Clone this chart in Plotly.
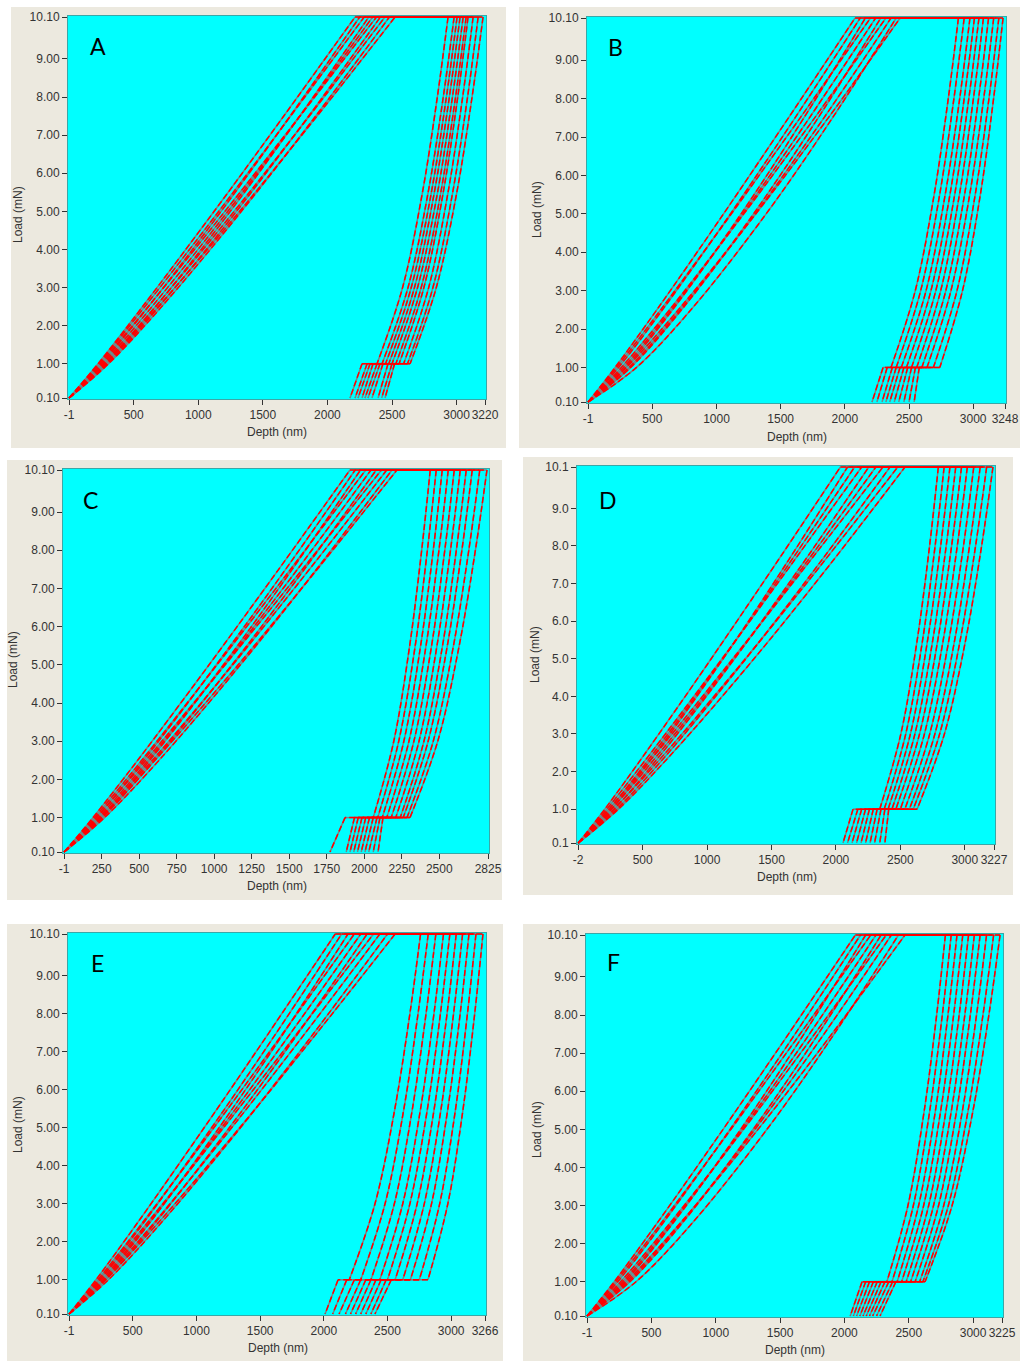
import plotly.graph_objects as go

W, H = 1023, 1361

# Load levels (mN) at which the depth of every curve is sampled
LOAD_P = [0.1, 1.0, 2.5, 5.0, 7.5, 10.1]
UNLOAD_P = [10.1, 8.0, 5.5, 3.0, 1.0]
TOP_P = 10.1
DRIFT_P = 1.0
END_P = 0.1

Y_TICKS = [0.1, 1, 2, 3, 4, 5, 6, 7, 8, 9, 10.1]
Y_TEXT_2DP = ["0.10", "1.00", "2.00", "3.00", "4.00", "5.00", "6.00", "7.00", "8.00", "9.00", "10.10"]
Y_TEXT_1DP = ["0.1", "1.0", "2.0", "3.0", "4.0", "5.0", "6.0", "7.0", "8.0", "9.0", "10.1"]

# ---------------- A ----------------
A_LOAD_H = [
    [0, 224, 569, 1123, 1662, 2214],
    [0, 252, 615, 1177, 1711, 2250],
    [0, 231, 587, 1159, 1715, 2285],
    [0, 286, 671, 1248, 1786, 2320],
    [0, 263, 642, 1229, 1787, 2350],
    [0, 240, 612, 1207, 1787, 2380],
    [0, 297, 697, 1296, 1855, 2410],
    [0, 273, 668, 1278, 1860, 2445],
    [0, 306, 717, 1334, 1909, 2480],
    [0, 282, 690, 1320, 1920, 2524],
]
A_UNLOAD_H = [
    [2934, 2851, 2736, 2582, 2384],
    [2981, 2897, 2780, 2624, 2423],
    [3004, 2921, 2805, 2649, 2450],
    [3027, 2944, 2828, 2674, 2475],
    [3051, 2968, 2853, 2698, 2500],
    [3074, 2992, 2878, 2726, 2530],
    [3089, 3009, 2897, 2747, 2555],
    [3128, 3047, 2934, 2784, 2590],
    [3167, 3085, 2970, 2817, 2620],
    [3205, 3120, 3002, 2843, 2640],
]
A_DRIFT_H = [2268, 2307, 2330, 2353, 2384, 2407, 2430, 2469, 2500, 2520]
A_FINAL_H = [2175, 2214, 2237, 2268, 2291, 2314, 2345, 2392, 2420, 2446]
A_XTICKS = [-1, 500, 1000, 1500, 2000, 2500, 3000, 3220]

# ---------------- B ----------------
B_LOAD_H = [
    [0, 210, 535, 1055, 1561, 2080],
    [0, 237, 579, 1109, 1612, 2120],
    [0, 291, 658, 1192, 1681, 2160],
    [0, 222, 565, 1116, 1652, 2200],
    [0, 276, 648, 1205, 1724, 2240],
    [0, 332, 728, 1289, 1792, 2280],
    [0, 259, 634, 1213, 1765, 2320],
    [0, 318, 719, 1302, 1837, 2360],
    [0, 377, 801, 1387, 1904, 2400],
    [0, 299, 703, 1307, 1871, 2431],
]
B_UNLOAD_H = [
    [2885, 2806, 2696, 2549, 2360],
    [2930, 2850, 2739, 2591, 2400],
    [2975, 2895, 2782, 2633, 2440],
    [3010, 2930, 2819, 2671, 2480],
    [3045, 2966, 2856, 2709, 2520],
    [3080, 3002, 2893, 2747, 2560],
    [3120, 3042, 2933, 2787, 2600],
    [3160, 3082, 2973, 2827, 2640],
    [3200, 3123, 3016, 2874, 2690],
    [3233, 3159, 3056, 2917, 2740],
]
B_DRIFT_H = [2298, 2330, 2370, 2400, 2430, 2460, 2490, 2520, 2550, 2580]
B_FINAL_H = [2212, 2250, 2290, 2320, 2350, 2385, 2420, 2460, 2500, 2540]
B_XTICKS = [-1, 500, 1000, 1500, 2000, 2500, 3000, 3248]

# ---------------- C ----------------
C_LOAD_H = [
    [0, 192, 490, 966, 1430, 1905],
    [0, 217, 530, 1014, 1476, 1940],
    [0, 243, 571, 1062, 1520, 1975],
    [0, 203, 517, 1019, 1509, 2010],
    [0, 229, 559, 1069, 1555, 2045],
    [0, 256, 601, 1119, 1601, 2080],
    [0, 214, 544, 1073, 1588, 2115],
    [0, 240, 588, 1124, 1635, 2150],
    [0, 269, 632, 1175, 1682, 2185],
    [0, 248, 606, 1160, 1687, 2218],
]
C_UNLOAD_H = [
    [2440, 2383, 2303, 2197, 2060],
    [2480, 2421, 2340, 2230, 2090],
    [2520, 2460, 2376, 2264, 2120],
    [2560, 2498, 2412, 2298, 2150],
    [2600, 2537, 2449, 2331, 2180],
    [2640, 2575, 2485, 2365, 2210],
    [2680, 2614, 2522, 2398, 2240],
    [2720, 2651, 2554, 2426, 2260],
    [2770, 2697, 2595, 2460, 2285],
    [2818, 2741, 2633, 2490, 2305],
]
C_DRIFT_H = [1872, 1935, 1960, 1985, 2010, 2035, 2060, 2085, 2105, 2125]
C_FINAL_H = [1772, 1880, 1905, 1930, 1955, 1980, 2005, 2030, 2060, 2092]
C_XTICKS = [-1, 250, 500, 750, 1000, 1250, 1500, 1750, 2000, 2250, 2500, 2825]

# ---------------- D ----------------
D_LOAD_H = [
    [0, 206, 523, 1032, 1528, 2035],
    [0, 257, 604, 1124, 1609, 2090],
    [0, 240, 586, 1122, 1631, 2145],
    [0, 222, 565, 1116, 1652, 2200],
    [0, 278, 652, 1213, 1736, 2255],
    [0, 258, 631, 1208, 1757, 2310],
    [0, 239, 608, 1199, 1775, 2365],
    [0, 298, 700, 1301, 1863, 2420],
    [0, 277, 678, 1297, 1886, 2480],
    [0, 312, 733, 1364, 1952, 2536],
]
D_UNLOAD_H = [
    [2795, 2727, 2631, 2504, 2340],
    [2840, 2770, 2673, 2542, 2375],
    [2885, 2813, 2712, 2578, 2405],
    [2930, 2856, 2752, 2613, 2435],
    [2975, 2898, 2791, 2649, 2465],
    [3020, 2942, 2833, 2687, 2500],
    [3070, 2990, 2877, 2728, 2535],
    [3120, 3037, 2922, 2768, 2570],
    [3170, 3084, 2965, 2805, 2600],
    [3219, 3131, 3007, 2842, 2630],
]
D_DRIFT_H = [2133, 2170, 2200, 2230, 2260, 2290, 2320, 2350, 2380, 2410]
D_FINAL_H = [2055, 2090, 2125, 2160, 2195, 2230, 2265, 2300, 2340, 2380]
D_XTICKS = [-2, 500, 1000, 1500, 2000, 2500, 3000, 3227]

# ---------------- E ----------------
E_LOAD_H = [
    [0, 211, 537, 1060, 1569, 2090],
    [0, 239, 585, 1119, 1628, 2140],
    [0, 270, 633, 1178, 1686, 2190],
    [0, 226, 576, 1136, 1682, 2240],
    [0, 256, 626, 1197, 1742, 2290],
    [0, 288, 677, 1258, 1801, 2340],
    [0, 241, 614, 1212, 1794, 2390],
    [0, 273, 667, 1276, 1856, 2440],
    [0, 308, 723, 1345, 1924, 2500],
    [0, 286, 700, 1339, 1947, 2560],
]
E_UNLOAD_H = [
    [2760, 2676, 2558, 2402, 2200],
    [2820, 2740, 2629, 2481, 2290],
    [2880, 2803, 2696, 2554, 2370],
    [2940, 2865, 2760, 2620, 2440],
    [2990, 2916, 2814, 2676, 2500],
    [3040, 2968, 2867, 2733, 2560],
    [3090, 3019, 2921, 2789, 2620],
    [3140, 3071, 2974, 2846, 2680],
    [3195, 3128, 3035, 2910, 2750],
    [3250, 3185, 3094, 2974, 2818],
]
E_DRIFT_H = [2112, 2180, 2240, 2290, 2330, 2370, 2410, 2450, 2490, 2530]
E_FINAL_H = [2010, 2070, 2120, 2170, 2210, 2250, 2290, 2330, 2370, 2402]
E_XTICKS = [-1, 500, 1000, 1500, 2000, 2500, 3000, 3266]

# ---------------- F ----------------
F_LOAD_H = [
    [0, 211, 536, 1057, 1565, 2085],
    [0, 238, 581, 1111, 1616, 2125],
    [0, 292, 659, 1194, 1685, 2165],
    [0, 223, 567, 1118, 1655, 2205],
    [0, 277, 649, 1207, 1728, 2245],
    [0, 333, 730, 1291, 1796, 2285],
    [0, 260, 635, 1216, 1768, 2325],
    [0, 319, 720, 1305, 1841, 2365],
    [0, 380, 807, 1398, 1920, 2420],
    [0, 304, 714, 1329, 1902, 2471],
]
F_UNLOAD_H = [
    [2785, 2717, 2621, 2494, 2330],
    [2830, 2761, 2664, 2536, 2370],
    [2875, 2805, 2708, 2577, 2410],
    [2920, 2849, 2749, 2616, 2445],
    [2965, 2892, 2790, 2655, 2480],
    [3010, 2936, 2832, 2693, 2515],
    [3055, 2979, 2873, 2732, 2550],
    [3105, 3027, 2918, 2772, 2585],
    [3160, 3077, 2962, 2808, 2610],
    [3210, 3123, 3000, 2837, 2627],
]
F_DRIFT_H = [2137, 2165, 2195, 2225, 2255, 2285, 2315, 2345, 2375, 2400]
F_FINAL_H = [2045, 2070, 2095, 2120, 2145, 2170, 2195, 2220, 2250, 2277]
F_XTICKS = [-1, 500, 1000, 1500, 2000, 2500, 3000, 3225]

PANELS = [
    ("A", A_LOAD_H, A_UNLOAD_H, A_DRIFT_H, A_FINAL_H, A_XTICKS, Y_TEXT_2DP),
    ("B", B_LOAD_H, B_UNLOAD_H, B_DRIFT_H, B_FINAL_H, B_XTICKS, Y_TEXT_2DP),
    ("C", C_LOAD_H, C_UNLOAD_H, C_DRIFT_H, C_FINAL_H, C_XTICKS, Y_TEXT_2DP),
    ("D", D_LOAD_H, D_UNLOAD_H, D_DRIFT_H, D_FINAL_H, D_XTICKS, Y_TEXT_1DP),
    ("E", E_LOAD_H, E_UNLOAD_H, E_DRIFT_H, E_FINAL_H, E_XTICKS, Y_TEXT_2DP),
    ("F", F_LOAD_H, F_UNLOAD_H, F_DRIFT_H, F_FINAL_H, F_XTICKS, Y_TEXT_2DP),
]

# Page layout in pixels: beige frame box, plot-area box (axis ends),
# letter position, x-title position, y-title position
LAYOUT_PX = {
    "A": dict(frame=(11, 7, 506, 448), plot=(69, 17, 485, 398), letter=(98, 46), xt=(277, 432), yt=(18, 215)),
    "B": dict(frame=(519, 7, 1020, 448), plot=(588, 18, 1005, 402), letter=(615, 47), xt=(797, 437), yt=(537, 210)),
    "C": dict(frame=(7, 460, 502, 900), plot=(64, 470, 488, 852), letter=(90, 500), xt=(277, 886), yt=(13, 660)),
    "D": dict(frame=(523, 457, 1013, 895), plot=(578, 467, 994, 843), letter=(608, 500), xt=(787, 877), yt=(535, 655)),
    "E": dict(frame=(7, 924, 503, 1361), plot=(69, 934, 485, 1314), letter=(97, 963), xt=(278, 1348), yt=(18, 1125)),
    "F": dict(frame=(523, 924, 1020, 1361), plot=(587, 935, 1002, 1316), letter=(613, 962), xt=(795, 1350), yt=(537, 1130)),
}

BEIGE = "#ECE9DF"
CYAN = "#00FFFF"
GRAY = "#768484"
RED = "#FF0000"
TICK_FONT = dict(family="Liberation Sans, Arial, sans-serif", size=12, color="#333333")
TITLE_FONT = dict(family="Liberation Sans, Arial, sans-serif", size=12, color="#333333")


def build_path(load_h, unload_h, drift_h, final_h):
    xs, ys = [], []
    for i in range(len(load_h)):
        lh, uh = load_h[i], unload_h[i]
        # loading branch
        xs += list(lh) + [None]
        ys += LOAD_P + [None]
        # hold at peak load
        xs += [lh[-1], uh[0], None]
        ys += [TOP_P, TOP_P, None]
        # unloading branch
        xs += list(uh) + [None]
        ys += UNLOAD_P + [None]
        # thermal-drift hold
        xs += [uh[-1], drift_h[i], None]
        ys += [DRIFT_P, DRIFT_P, None]
        # final unload
        xs += [drift_h[i], final_h[i], None]
        ys += [DRIFT_P, END_P, None]
    return xs, ys


def px_to_paper_x(px):
    return px / W


def px_to_paper_y(py):
    return 1 - py / H


fig = go.Figure()
shapes = []
annotations = []
layout_axes = {}

for k, (name, load_h, unload_h, drift_h, final_h, xticks, ytext) in enumerate(PANELS, start=1):
    geo = LAYOUT_PX[name]
    fx0, fy0, fx1, fy1 = geo["frame"]
    px0, py0, px1, py1 = geo["plot"]
    xa = "x" if k == 1 else f"x{k}"
    ya = "y" if k == 1 else f"y{k}"

    xmin, xmax = xticks[0], xticks[-1]
    # one pixel of padding so the peak-load hold line is not clipped
    x_per_px = (xmax - xmin) / (px1 - px0)
    y_per_px = (10.1 - 0.1) / (py1 - py0)
    pad = 1
    xr = [xmin - pad * x_per_px, xmax + pad * x_per_px]
    yr = [0.1 - pad * y_per_px, 10.1 + pad * y_per_px]

    shapes.append(dict(type="rect", xref="paper", yref="paper", layer="below",
                       x0=px_to_paper_x(fx0), x1=px_to_paper_x(fx1),
                       y0=px_to_paper_y(fy1), y1=px_to_paper_y(fy0),
                       fillcolor=BEIGE, line=dict(width=0)))

    xs, ys = build_path(load_h, unload_h, drift_h, final_h)
    fig.add_trace(go.Scatter(x=xs, y=ys, mode="lines", xaxis=xa, yaxis=ya,
                             line=dict(color=GRAY, width=1.5, shape="spline"),
                             hoverinfo="skip", showlegend=False))
    fig.add_trace(go.Scatter(x=xs, y=ys, mode="lines", xaxis=xa, yaxis=ya,
                             line=dict(color=RED, width=1.5, shape="spline", dash="6px,3px"),
                             hoverinfo="skip", showlegend=False))

    key_x = "xaxis" if k == 1 else f"xaxis{k}"
    key_y = "yaxis" if k == 1 else f"yaxis{k}"
    layout_axes[key_x] = dict(
        domain=[px_to_paper_x(px0 - pad), px_to_paper_x(px1 + pad)],
        range=xr, anchor=ya, showgrid=False, zeroline=False,
        tickmode="array", tickvals=xticks, ticktext=[str(v) for v in xticks],
        tickangle=0, ticks="outside", ticklen=5, tickwidth=1, tickcolor="#333",
        tickfont=TICK_FONT, showline=True, mirror=True, automargin=False,
        linecolor="#3aa8a8", linewidth=1, fixedrange=True,
    )
    layout_axes[key_y] = dict(
        domain=[px_to_paper_y(py1 + pad), px_to_paper_y(py0 - pad)],
        range=yr, anchor=xa, showgrid=False, zeroline=False,
        tickmode="array", tickvals=Y_TICKS, ticktext=ytext,
        tickangle=0, ticks="outside", ticklen=5, tickwidth=1, tickcolor="#333",
        tickfont=TICK_FONT, showline=True, mirror=True, automargin=False,
        linecolor="#3aa8a8", linewidth=1, fixedrange=True,
    )
    shapes.append(dict(type="rect", xref=f"{xa} domain", yref=f"{ya} domain", layer="below",
                       x0=0, x1=1, y0=0, y1=1, fillcolor=CYAN, line=dict(width=0)))

    lx, ly = geo["letter"]
    annotations.append(dict(text=name, xref="paper", yref="paper",
                            x=px_to_paper_x(lx), y=px_to_paper_y(ly),
                            xanchor="center", yanchor="middle", showarrow=False,
                            font=dict(family="Lato, Open Sans, sans-serif", size=23, color="#000")))
    tx, ty = geo["xt"]
    annotations.append(dict(text="Depth (nm)", xref="paper", yref="paper",
                            x=px_to_paper_x(tx), y=px_to_paper_y(ty),
                            xanchor="center", yanchor="middle", showarrow=False, font=TITLE_FONT))
    vx, vy = geo["yt"]
    annotations.append(dict(text="Load (mN)", xref="paper", yref="paper",
                            x=px_to_paper_x(vx), y=px_to_paper_y(vy), textangle=-90,
                            xanchor="center", yanchor="middle", showarrow=False, font=TITLE_FONT))

fig.update_layout(
    width=W, height=H, autosize=False,
    margin=dict(l=0, r=0, t=0, b=0, pad=0),
    paper_bgcolor="white", plot_bgcolor="rgba(0,0,0,0)",
    shapes=shapes, annotations=annotations, showlegend=False,
    **layout_axes,
)

PAGE_FIX = (
    "document.body.style.margin='0';"
    "document.body.style.padding='0';"
    "document.documentElement.style.overflow='hidden';"
    "document.body.style.overflow='hidden';"
)

fig.write_html("out.html", config={"displayModeBar": False, "responsive": False},
               default_width=f"{W}px", default_height=f"{H}px", post_script=PAGE_FIX)
